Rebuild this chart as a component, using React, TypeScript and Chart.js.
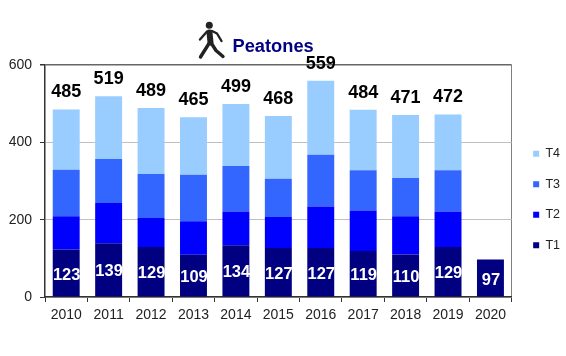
import React, { useEffect, useRef } from "react";
import { Chart, registerables } from "chart.js";

Chart.register(...registerables);

const years = ["2010", "2011", "2012", "2013", "2014", "2015", "2016", "2017", "2018", "2019", "2020"];
const t1 = [123, 139, 129, 109, 134, 127, 127, 119, 110, 129, 97];
const t2 = [86, 104, 75, 87, 87, 80, 107, 105, 99, 92, null];
const t3 = [120, 114, 114, 120, 118, 99, 134, 104, 99, 107, null];
const t4 = [156, 162, 171, 149, 160, 162, 191, 156, 163, 144, null];
const totals = [485, 519, 489, 465, 499, 468, 559, 484, 471, 472, null];
const titleText = "Peatones";
const FONT = "'Liberation Sans', Arial, sans-serif";

const decorPlugin = {
  id: "decor",
  beforeDraw(chart: any) {
    const lg = chart.legend;
    const h = lg.bottom - lg.top;
    const w = lg.right - lg.left;
    lg.top = 199.5 - h / 2;
    lg.bottom = 199.5 + h / 2;
    lg.left = chart.chartArea.right + 3.5;
    lg.right = lg.left + w;
  },
  afterDraw(chart: any) {
    const { ctx } = chart;
    ctx.save();
    // value labels
    const base = chart.getDatasetMeta(0).data;
    const top = chart.getDatasetMeta(3).data;
    ctx.textAlign = "center";
    ctx.textBaseline = "middle";
    ctx.fillStyle = "#ffffff";
    ctx.font = `bold 16.5px ${FONT}`;
    t1.forEach((v, i) => {
      const b = base[i];
      ctx.fillText(String(v), b.x + 0.5, (b.y + b.base) / 2 + 2);
    });
    ctx.fillStyle = "#000000";
    ctx.font = `bold 18px ${FONT}`;
    totals.forEach((v, i) => {
      if (v === null) return;
      const b = top[i];
      ctx.fillText(String(v), b.x, b.y - 17);
    });
    // title
    ctx.textAlign = "left";
    ctx.fillStyle = "#000080";
    ctx.font = `bold 18.3px ${FONT}`;
    ctx.fillText(titleText, 232.5, 46.5);
    // pedestrian pictogram
    ctx.fillStyle = "#222222";
    ctx.strokeStyle = "#222222";
    ctx.lineCap = "round";
    ctx.lineJoin = "round";
    ctx.beginPath();
    ctx.arc(209.3, 25.2, 3.5, 0, Math.PI * 2);
    ctx.fill();
    ctx.lineWidth = 6;
    ctx.beginPath();
    ctx.moveTo(209.5, 32.5);
    ctx.lineTo(210.5, 42.5);
    ctx.stroke();
    ctx.lineWidth = 2.4;
    ctx.beginPath();
    ctx.moveTo(207, 31.5);
    ctx.lineTo(200, 39.5);
    ctx.moveTo(212, 31);
    ctx.lineTo(217, 33.5);
    ctx.lineTo(221.5, 41);
    ctx.stroke();
    ctx.lineWidth = 3.4;
    ctx.beginPath();
    ctx.moveTo(209, 43.5);
    ctx.lineTo(200.5, 57);
    ctx.moveTo(211.5, 43.5);
    ctx.lineTo(216, 50.5);
    ctx.lineTo(223, 56.5);
    ctx.stroke();
    ctx.restore();
  },
};

export default function App() {
  const ref = useRef<HTMLCanvasElement>(null);
  useEffect(() => {
    document.body.style.margin = "0";
    const seg = (label: string, data: any[], color: string) => ({
      label,
      data,
      backgroundColor: color,
      borderWidth: 0,
      stack: "s",
      barPercentage: 0.635,
      categoryPercentage: 1,
    });
    const chart = new Chart(ref.current!, {
      type: "bar",
      data: {
        labels: years,
        datasets: [
          seg("T1", t1, "#000080"),
          seg("T2", t2, "#0000ff"),
          seg("T3", t3, "#3366ff"),
          seg("T4", t4, "#99ccff"),
        ],
      },
      options: {
        responsive: false,
        animation: false,
        layout: { padding: { top: 65, left: 0, right: -0.5, bottom: 0 } },
        plugins: {
          tooltip: { enabled: false },
          title: { display: false },
          legend: {
            position: "right",
            reverse: true,
            labels: {
              boxWidth: 6,
              boxHeight: 6,
              padding: 18,
              color: "#222222",
              font: { family: FONT, size: 12.5 },
            },
          },
        },
        scales: {
          x: {
            stacked: true,
            afterFit(s: any) { s.height = 59; },
            grid: {
              offset: true,
              drawOnChartArea: true,
              tickLength: 5,
              color: (c: any) => (c.tick ? "rgba(0,0,0,0)" : "#808080"),
              tickColor: "#333333",
            },
            border: { color: "#333333", width: 1.5 },
            ticks: { color: "#222222", font: { family: FONT, size: 14 }, padding: 5, maxRotation: 0, autoSkip: false },
          },
          y: {
            stacked: true,
            min: 0,
            max: 600,
            afterFit(s: any) { s.width = 45; },
            grid: {
              tickLength: 5,
              color: (c: any) => (c.tick.value === 600 ? "#666666" : "#c0c0c0"),
              tickColor: "#333333",
              lineWidth: (c: any) => (c.tick.value === 600 ? 1.5 : 1),
            },
            border: { color: "#333333", width: 1.5 },
            ticks: { stepSize: 200, color: "#222222", font: { family: FONT, size: 14 }, padding: 8 },
          },
        },
      } as any,
      plugins: [decorPlugin],
    });
    return () => chart.destroy();
  }, []);
  return <canvas ref={ref} width={566} height={356} style={{ display: "block" }} />;
}
